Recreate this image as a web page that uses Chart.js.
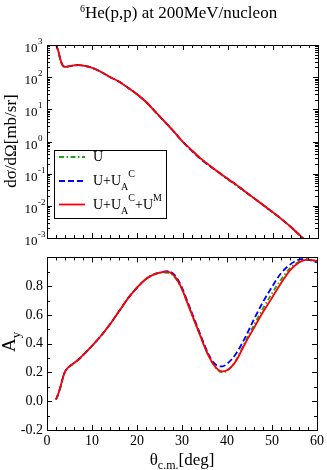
<!DOCTYPE html>
<html>
<head>
<meta charset="utf-8">
<script src="https://cdn.jsdelivr.net/npm/chart.js@4"></script>
<style>
  body { margin: 0; background: #fff; }
  #wrap { position: relative; width: 327px; height: 470px; }
  canvas { position: absolute; left: 0; }
</style>
</head>
<body>
<div id="wrap">
  <canvas id="xsChart" width="327" height="245" style="top:0;width:327px;height:245px"></canvas>
  <canvas id="ayChart" width="327" height="225" style="top:245px;width:327px;height:225px"></canvas>
</div>
<script>
// cross section panel (mb/sr)
const thetaXS = [2, 2.5, 3, 3.5, 4, 5, 6, 7, 8, 10, 12, 14, 16, 18, 20, 22, 24, 26, 28, 30,
  32, 34, 36, 38, 40, 42, 44, 46, 48, 50, 52, 54, 56, 58, 60];
const xsUCM = [1047, 646, 339, 229, 209, 219, 234, 237, 229, 195, 145, 100, 72, 46, 29, 16.6, 8.3, 4.2, 2.1, 1.0,
  0.54, 0.30, 0.18, 0.11, 0.069, 0.044, 0.027, 0.0166, 0.0102, 0.0063, 0.0038, 0.0022, 0.0012, 0.00066, 0.00035];
const xsUC = [1047, 646, 339, 229, 209, 219, 234, 237, 229, 195, 145, 100, 72, 46, 29, 16.6, 8.3, 4.2, 2.1, 1.0,
  0.52, 0.285, 0.172, 0.11, 0.069, 0.044, 0.027, 0.0166, 0.0102, 0.0063, 0.0038, 0.0022, 0.0012, 0.00066, 0.00035];
const xsU = [1047, 646, 339, 229, 209, 219, 234, 237, 229, 195, 145, 100, 72, 46, 29, 16.6, 8.3, 4.2, 2.1, 1.0,
  0.54, 0.30, 0.18, 0.107, 0.066, 0.042, 0.026, 0.0166, 0.0102, 0.0063, 0.0038, 0.0022, 0.0012, 0.00066, 0.00035];

// analyzing power panel
const thetaAy = [2, 2.5, 3, 3.5, 4, 4.5, 5, 6, 7, 8, 10, 12, 14, 16, 18, 20, 22, 24, 25, 26, 27, 28, 29, 30,
  31, 32, 33, 34, 35, 36, 37, 38, 39, 40, 41, 42, 44, 46, 48, 50, 52, 54, 56, 57, 58, 60];
const ayUCM = [0.012, 0.05, 0.10, 0.16, 0.205, 0.228, 0.242, 0.265, 0.29, 0.32, 0.385, 0.455, 0.535, 0.625, 0.715, 0.79,
  0.85, 0.885, 0.895, 0.9, 0.899, 0.88, 0.84, 0.78, 0.70, 0.62, 0.54, 0.46, 0.38, 0.31, 0.255, 0.22, 0.207, 0.215,
  0.24, 0.28, 0.40, 0.51, 0.62, 0.72, 0.82, 0.91, 0.965, 0.98, 0.985, 0.975];
const ayUC = [0.012, 0.05, 0.10, 0.16, 0.205, 0.228, 0.242, 0.265, 0.29, 0.32, 0.385, 0.455, 0.535, 0.625, 0.715, 0.79,
  0.85, 0.885, 0.895, 0.901, 0.905, 0.888, 0.85, 0.79, 0.71, 0.63, 0.55, 0.47, 0.39, 0.32, 0.27, 0.245, 0.242, 0.26,
  0.29, 0.33, 0.44, 0.57, 0.69, 0.795, 0.89, 0.95, 0.985, 0.99, 0.985, 0.965];
const ayU = [0.012, 0.05, 0.10, 0.16, 0.205, 0.228, 0.242, 0.265, 0.29, 0.32, 0.385, 0.455, 0.535, 0.625, 0.715, 0.79,
  0.85, 0.883, 0.891, 0.894, 0.892, 0.875, 0.835, 0.78, 0.70, 0.62, 0.54, 0.46, 0.38, 0.31, 0.255, 0.215, 0.2, 0.21,
  0.24, 0.285, 0.41, 0.53, 0.645, 0.75, 0.845, 0.925, 0.97, 0.982, 0.985, 0.97];

const xTicks = [0, 10, 20, 30, 40, 50, 60];
const xsTicks = [1e-3, 1e-2, 1e-1, 1, 10, 100, 1000];
const xsExp = ['-3', '-2', '-1', '0', '1', '2', '3'];
const ayTicks = [-0.2, 0, 0.2, 0.4, 0.6, 0.8, 1.0];

const RED = '#ff0000', BLUE = '#0000ff', GREEN = '#22a022';
const DASH = [6, 3], DASHDOT = [5, 2.5, 1.5, 2.5];
const SERIF = '"Liberation Serif", "DejaVu Serif", serif';

Chart.defaults.font.family = SERIF;
Chart.defaults.color = '#000';

function pts(xs, ys) { return xs.map((x, i) => ({ x: x, y: ys[i] })); }

function series(xs, ys, color, dash) {
  return {
    data: pts(xs, ys), borderColor: color, borderWidth: 1.8, borderDash: dash || [],
    pointRadius: 0, fill: false, cubicInterpolationMode: 'monotone'
  };
}

// text with sub/superscripts, drawn piece by piece
function richText(ctx, x, y, parts) {
  parts.forEach(p => {
    ctx.font = p.size + 'px ' + SERIF;
    ctx.fillText(p.t, x, y + (p.dy || 0));
    x += ctx.measureText(p.t).width;
  });
}
function richWidth(ctx, parts) {
  let w = 0;
  parts.forEach(p => { ctx.font = p.size + 'px ' + SERIF; w += ctx.measureText(p.t).width; });
  return w;
}

function seg(ctx, x1, y1, x2, y2) {
  ctx.beginPath(); ctx.moveTo(x1, y1); ctx.lineTo(x2, y2); ctx.stroke();
}

// grace-like frame with inward ticks on all four sides
const frameTicks = {
  id: 'frameTicks',
  afterDatasetsDraw(chart, args, opts) {
    const { ctx, chartArea: a, scales: { x, y } } = chart;
    ctx.save();
    ctx.strokeStyle = '#000';
    ctx.lineWidth = 1;
    ctx.setLineDash([]);
    const L = 5, S = 3;
    for (let v = 0; v <= 60; v += 2) {
      const p = Math.round(x.getPixelForValue(v)) + 0.5;
      const len = v % 10 === 0 ? L : S;
      seg(ctx, p, a.bottom, p, a.bottom - len);
      seg(ctx, p, a.top, p, a.top + len);
    }
    if (opts.log) {
      xsTicks.forEach((dec, i) => {
        for (let m = 1; m <= 9; m++) {
          const v = dec * m;
          if (v > 1000) break;
          const p = Math.round(y.getPixelForValue(v)) + 0.5;
          const len = m === 1 ? L : S;
          seg(ctx, a.left, p, a.left + len, p);
          seg(ctx, a.right, p, a.right - len, p);
        }
      });
    } else {
      for (let k = -2; k <= 10; k++) {
        const p = Math.round(y.getPixelForValue(k / 10)) + 0.5;
        const len = k % 2 === 0 ? L : S;
        seg(ctx, a.left, p, a.left + len, p);
        seg(ctx, a.right, p, a.right - len, p);
      }
    }
    ctx.strokeRect(Math.round(a.left) + 0.5, Math.round(a.top) + 0.5, Math.round(a.width), Math.round(a.height));
    ctx.restore();
  }
};

// titles, log tick labels and legend of the upper panel
const xsTexts = {
  id: 'xsTexts',
  afterDraw(chart) {
    const { ctx, scales: { y } } = chart;
    ctx.save();
    ctx.fillStyle = '#000';
    ctx.textBaseline = 'alphabetic';
    ctx.textAlign = 'left';
    richText(ctx, 80, 18, [{ t: '6', size: 10, dy: -6 }, { t: 'He(p,p) at 200MeV/nucleon', size: 17 }]);

    // log tick labels
    xsTicks.forEach((v, i) => {
      const p = y.getPixelForValue(v);
      ctx.font = '13px ' + SERIF;
      ctx.textAlign = 'right';
      ctx.fillText('10', 37.5, p + 7);
      ctx.font = '9px ' + SERIF;
      ctx.textAlign = 'left';
      ctx.fillText(xsExp[i], 38, p - 1);
    });

    // y title
    const yt = [{ t: 'd\u03c3/d\u03a9[mb/sr]', size: 17 }];
    const w = richWidth(ctx, yt);
    ctx.save();
    ctx.translate(16, 141 + w / 2);
    ctx.rotate(-Math.PI / 2);
    richText(ctx, 0, 0, yt);
    ctx.restore();

    // legend
    ctx.fillStyle = '#fff';
    ctx.fillRect(54.5, 150.5, 112, 68);
    ctx.strokeStyle = '#000';
    ctx.lineWidth = 1;
    ctx.strokeRect(54.5, 150.5, 112, 68);
    const rows = [
      { c: GREEN, d: DASHDOT, y: 161, parts: [{ t: 'U', size: 14 }] },
      { c: BLUE, d: DASH, y: 185, parts: [{ t: 'U+U', size: 14 }, { t: 'A', size: 10, dy: 5 }, { t: 'C', size: 10, dy: -8 }] },
      { c: RED, d: [], y: 208.5, parts: [{ t: 'U+U', size: 14 }, { t: 'A', size: 10, dy: 5 }, { t: 'C', size: 10, dy: -8 },
        { t: '+U', size: 14 }, { t: 'M', size: 10, dy: -8 }] }
    ];
    rows.forEach(r => {
      ctx.strokeStyle = r.c;
      ctx.lineWidth = 1.8;
      ctx.setLineDash(r.d);
      seg(ctx, 59, r.y - 4, 85, r.y - 4);
      ctx.setLineDash([]);
      ctx.fillStyle = '#000';
      richText(ctx, 93, r.y, r.parts);
    });
    ctx.restore();
  }
};

// axis titles of the lower panel
const ayTexts = {
  id: 'ayTexts',
  afterDraw(chart) {
    const { ctx, chartArea: a } = chart;
    ctx.save();
    ctx.fillStyle = '#000';
    ctx.textBaseline = 'alphabetic';
    ctx.textAlign = 'left';
    ctx.save();
    ctx.translate(15, 352 - 245);
    ctx.rotate(-Math.PI / 2);
    richText(ctx, 0, 0, [{ t: 'A', size: 19 }, { t: 'y', size: 13, dy: 5 }]);
    ctx.restore();

    const xt = [{ t: '\u03b8', size: 17 }, { t: 'c.m.', size: 12, dy: 4 }, { t: '[deg]', size: 17 }];
    const w = richWidth(ctx, xt);
    richText(ctx, (a.left + a.right) / 2 - w / 2, 220, xt);
    ctx.restore();
  }
};

new Chart(document.getElementById('xsChart'), {
  type: 'line',
  data: {
    datasets: [
      series(thetaXS, xsUCM, RED),
      series(thetaXS, xsUC, BLUE, DASH),
      series(thetaXS, xsU, GREEN, DASHDOT)
    ]
  },
  options: {
    responsive: false,
    animation: false,
    devicePixelRatio: 1,
    layout: { padding: { top: 45, right: 9, bottom: 7, left: 0 } },
    plugins: { legend: { display: false }, tooltip: { enabled: false }, frameTicks: { log: true } },
    scales: {
      x: {
        type: 'linear', min: 0, max: 60,
        grid: { display: false, drawTicks: false }, border: { display: false },
        ticks: { display: false },
        afterFit(s) { s.height = 0; }
      },
      y: {
        type: 'logarithmic', min: 1e-3, max: 1e3,
        grid: { display: false, drawTicks: false }, border: { display: false },
        ticks: { display: false },
        afterFit(s) { s.width = 47; }
      }
    }
  },
  plugins: [frameTicks, xsTexts]
});

new Chart(document.getElementById('ayChart'), {
  type: 'line',
  data: {
    datasets: [
      series(thetaAy, ayUCM, RED),
      series(thetaAy, ayUC, BLUE, DASH),
      series(thetaAy, ayU, GREEN, DASHDOT)
    ]
  },
  options: {
    responsive: false,
    animation: false,
    devicePixelRatio: 1,
    layout: { padding: { top: 10, right: 9, bottom: 0, left: 0 } },
    plugins: { legend: { display: false }, tooltip: { enabled: false }, frameTicks: { log: false } },
    scales: {
      x: {
        type: 'linear', min: 0, max: 60,
        grid: { display: false, drawTicks: false }, border: { display: false },
        ticks: { font: { size: 14 }, padding: 3, maxRotation: 0 },
        afterBuildTicks(s) { s.ticks = xTicks.map(v => ({ value: v })); },
        afterFit(s) { s.height = 40; }
      },
      y: {
        type: 'linear', min: -0.2, max: 1.0,
        grid: { display: false, drawTicks: false }, border: { display: false },
        ticks: {
          font: { size: 14 }, padding: 4,
          callback: v => (v > 0.95 ? '' : v.toFixed(1))
        },
        afterBuildTicks(s) { s.ticks = ayTicks.map(v => ({ value: v })); },
        afterFit(s) { s.height = s.height; s.width = 47; }
      }
    }
  },
  plugins: [frameTicks, ayTexts]
});
</script>
</body>
</html>
